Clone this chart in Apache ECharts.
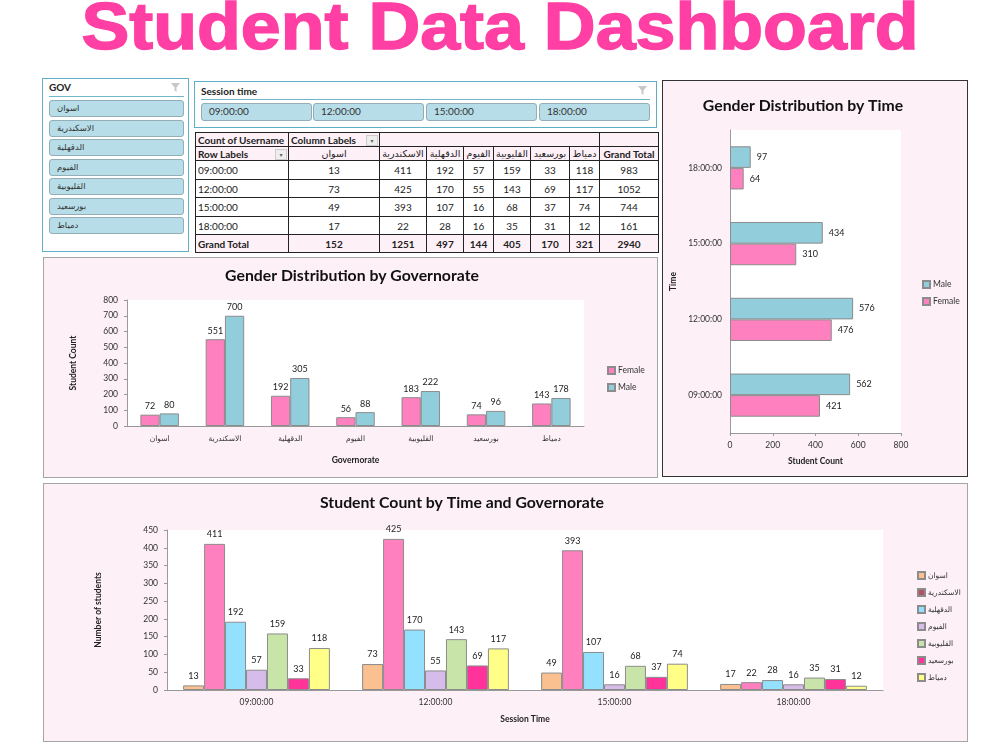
<!DOCTYPE html>
<html lang="en">
<head>
  <meta charset="UTF-8">
  <title>Student Data Dashboard</title>
  <script src="https://cdnjs.cloudflare.com/ajax/libs/echarts/6.0.0/echarts.min.js"></script>
  <style>
    html, body { margin: 0; padding: 0; background: #fff; }
    body { width: 1000px; height: 750px; position: relative; overflow: hidden; font-family: Lato, "DejaVu Sans", sans-serif; color: #222; }
    h1 { position: absolute; left: 0; top: -12px; width: 1000px; margin: 0; text-align: center; font: bold 66px "Liberation Sans", Arial, sans-serif; transform: scaleX(1.087); -webkit-text-stroke: 1.5px #ff3fa4; color: #ff3fa4; line-height: 76px; }
    .panel { position: absolute; background: #fdf0f7; box-sizing: border-box; }
    .slicer { position: absolute; box-sizing: border-box; border: 1px solid #5fb0c6; background: #fff; }
    .slicer .head { position: absolute; font-weight: bold; font-size: 10px; }
    .slicer .rule { position: absolute; height: 1px; background: #6fb8cc; }
    .slicer svg { position: absolute; }
    .btn { position: absolute; box-sizing: border-box; background: #b7dde8; border: 1px solid #93aeb6; border-radius: 3px; font-size: 10px; line-height: 15px; color: #333; }
    .gov { font-size: 8.5px; padding-left: 7px; }
    .time { padding-left: 7px; }
    table { position: absolute; left: 195px; top: 132px; width: 463px; height: 120px; border-collapse: collapse; table-layout: fixed; font-size: 10px; }
    td { border: 1px solid #222; text-align: center; padding: 0; overflow: hidden; white-space: nowrap; }
    td.row { text-align: left; padding-left: 2px; }
    .hd { background: #fdf0f7; }
    .b { font-weight: bold; }
    .ar { font-size: 9.5px; }
    .drop { float: right; width: 12px; height: 11px; margin: 1px 1px 0 0; background: #eee; border: 1px solid #ccc; box-sizing: border-box; font-size: 6px; line-height: 9px; text-align: center; color: #666; }
  </style>
</head>
<body>
  <h1>Student Data Dashboard</h1>

  <div class="slicer" id="gov-slicer" style="left:42px;top:78px;width:147px;height:174px;"></div>
  <div class="slicer" id="time-slicer" style="left:194px;top:81px;width:463px;height:47px;"></div>
  <table id="pivot"></table>

  <div class="panel" id="chart-gov" style="left:43px;top:257px;width:615px;height:221px;border:1px solid #a5a5a5;"></div>
  <div class="panel" id="chart-time" style="left:662px;top:80px;width:306px;height:397px;border:1px solid #333;"></div>
  <div class="panel" id="chart-both" style="left:43px;top:483px;width:925px;height:259px;border:1px solid #a5a5a5;"></div>

  <script>
    // values
    const governorates = ['اسوان', 'الاسكندرية', 'الدقهلية', 'الفيوم', 'القليوبية', 'بورسعيد', 'دمياط'];
    const times = ['09:00:00', '12:00:00', '15:00:00', '18:00:00'];

    const femaleByGov = [72, 551, 192, 56, 183, 74, 143];
    const maleByGov = [80, 700, 305, 88, 222, 96, 178];

    const femaleByTime = [421, 476, 310, 64];
    const maleByTime = [562, 576, 434, 97];

    const aswan = [13, 73, 49, 17];
    const alex = [411, 425, 393, 22];
    const dakahlia = [192, 170, 107, 28];
    const fayoum = [57, 55, 16, 16];
    const qalyubia = [159, 143, 68, 35];
    const portSaid = [33, 69, 37, 31];
    const damietta = [118, 117, 74, 12];
    const byTime = [aswan, alex, dakahlia, fayoum, qalyubia, portSaid, damietta];

    const timeTotals = [983, 1052, 744, 161];
    const govTotals = [152, 1251, 497, 144, 405, 170, 321];
    const grandTotal = 2940;

    const govColors = ['#fac090', '#ff80bf', '#93e0ff', '#d6bcea', '#c8e4a8', '#ff3399', '#ffff88'];
    const govLegendColors = ['#fac090', '#b65060', '#93e0ff', '#d6bcea', '#c8e4a8', '#ff3399', '#ffff88'];
    const PINK = '#ff80bf';
    const BLUE = '#92cddc';
    const FONT = 'Lato, "DejaVu Sans", sans-serif';
    const BAR_BORDER = '#8c8c8c';

    // slicers
    const funnel = (x, y) => `<svg style="left:${x}px;top:${y}px" width="11" height="11" viewBox="0 0 11 11"><path d="M1 1h9L6.5 5.5V10L4.5 8.5V5.5z" fill="#c8c8c8"/></svg>`;

    const govSlicer = document.getElementById('gov-slicer');
    let html = '<div class="head" style="left:6px;top:2px">GOV</div>' +
      '<div class="rule" style="left:6px;top:17px;width:135px"></div>' + funnel(127, 3);
    governorates.forEach((g, i) => {
      html += `<div class="btn gov" style="left:6px;top:${21 + i * 19.5}px;width:135px;height:17px">${g}</div>`;
    });
    govSlicer.innerHTML = html;

    const timeLefts = [6, 118, 231, 344];
    const timeSlicer = document.getElementById('time-slicer');
    html = '<div class="head" style="left:6px;top:3px">Session time</div>' +
      '<div class="rule" style="left:6px;top:17px;width:449px"></div>' + funnel(442, 3);
    times.forEach((t, i) => {
      html += `<div class="btn time" style="left:${timeLefts[i]}px;top:21px;width:111px;height:18px">${t}</div>`;
    });
    timeSlicer.innerHTML = html;

    // pivot table
    const colWidths = [93, 91, 47, 37, 30, 37, 39, 30, 59];
    const rowHeights = [14, 14, 19, 18, 19, 18, 18];
    let t = '<colgroup>' + colWidths.map(w => `<col style="width:${w}px">`).join('') + '</colgroup>';
    t += `<tr style="height:${rowHeights[0]}px"><td class="row b hd">Count of Username</td><td class="row b hd">Column Labels<span class="drop">▾</span></td><td class="hd" colspan="6"></td><td class="hd"></td></tr>`;
    t += `<tr style="height:${rowHeights[1]}px"><td class="row b hd">Row Labels<span class="drop">▾</span></td>` +
      governorates.map(g => `<td class="hd ar">${g}</td>`).join('') + '<td class="hd b">Grand Total</td></tr>';
    times.forEach((time, i) => {
      t += `<tr style="height:${rowHeights[i + 2]}px"><td class="row">${time}</td>` +
        byTime.map(v => `<td>${v[i]}</td>`).join('') + `<td>${timeTotals[i]}</td></tr>`;
    });
    t += `<tr class="hd b" style="height:${rowHeights[6]}px"><td class="row">Grand Total</td>` +
      govTotals.map(v => `<td>${v}</td>`).join('') + `<td>${grandTotal}</td></tr>`;
    document.getElementById('pivot').innerHTML = t;

    // shared bar style
    function barSeries(name, data, color, position, barCategoryGap, distance) {
      return {
        name: name,
        type: 'bar',
        data: data,
        barGap: 0,
        barCategoryGap: barCategoryGap,
        itemStyle: { color: color, borderColor: BAR_BORDER, borderWidth: 1 },
        label: { show: true, position: position, distance: distance, fontSize: 9, color: '#222', fontFamily: FONT }
      };
    }
    const axisLine = { show: true, lineStyle: { color: '#999', width: 1 } };
    const axisTick = { show: true, length: 3, lineStyle: { color: '#999' } };
    const nameStyle = { fontSize: 8.5, fontWeight: 'bold', color: '#222', fontFamily: FONT };
    const tickStyle = { fontSize: 8.5, color: '#333', fontFamily: FONT };
    const titleStyle = { fontSize: 15.8, fontWeight: 'bold', color: '#111', fontFamily: FONT };
    const legendText = { fontSize: 8.5, color: '#333', fontFamily: FONT, padding: [0, 0, 0, -2] };

    // Gender Distribution by Governorate
    const chartGov = echarts.init(document.getElementById('chart-gov'));
    chartGov.setOption({
      animation: false,
      title: { text: 'Gender Distribution by Governorate', left: 303, top: 5, textAlign: 'center', textStyle: titleStyle },
      legend: { orient: 'vertical', left: 558, top: 103, icon: 'rect', itemWidth: 7, itemHeight: 7, itemGap: 8,
        data: ['Female', 'Male'], textStyle: legendText },
      grid: { left: 83, top: 42, width: 457, height: 126, show: true, backgroundColor: '#fff', borderWidth: 0, outerBoundsMode: 'none' },
      xAxis: { type: 'category', data: governorates, name: 'Governorate', nameLocation: 'middle', nameGap: 30,
        nameTextStyle: nameStyle, axisLine: axisLine, axisTick: { show: false },
        axisLabel: { margin: 9, fontSize: 7.5, color: '#333', fontFamily: FONT } },
      yAxis: { type: 'value', min: 0, max: 800, interval: 100, name: 'Student Count', nameLocation: 'middle', nameGap: 49,
        nameTextStyle: nameStyle, axisLine: axisLine, axisTick: axisTick, axisLabel: Object.assign({ margin: 9 }, tickStyle),
        splitLine: { show: false } },
      series: [
        barSeries('Female', femaleByGov, PINK, 'top', '41%', 4),
        barSeries('Male', maleByGov, BLUE, 'top', '41%', 4)
      ]
    });

    // Gender Distribution by Time
    const chartTime = echarts.init(document.getElementById('chart-time'));
    chartTime.setOption({
      animation: false,
      title: { text: 'Gender Distribution by Time', left: 135, top: 12, textAlign: 'center', textStyle: titleStyle },
      legend: { orient: 'vertical', left: 254, top: 194, icon: 'rect', itemWidth: 7, itemHeight: 7, itemGap: 8,
        data: ['Male', 'Female'], textStyle: legendText },
      grid: { left: 67, top: 49, width: 171, height: 303, show: true, backgroundColor: '#fff', borderWidth: 0, outerBoundsMode: 'none' },
      xAxis: { type: 'value', min: 0, max: 800, interval: 200, name: 'Student Count', nameLocation: 'middle', nameGap: 24,
        nameTextStyle: nameStyle, axisLine: axisLine, axisTick: axisTick, axisLabel: Object.assign({ margin: 8 }, tickStyle),
        splitLine: { show: false } },
      yAxis: { type: 'category', data: times, name: 'Time', nameLocation: 'middle', nameGap: 47,
        nameTextStyle: nameStyle, axisLine: axisLine, axisTick: { show: false }, axisLabel: Object.assign({ margin: 8 }, tickStyle) },
      series: [
        barSeries('Male', maleByTime, BLUE, 'right', '43%', 6),
        barSeries('Female', femaleByTime, PINK, 'right', '43%', 6)
      ]
    });

    // Student Count by Time and Governorate
    const chartBoth = echarts.init(document.getElementById('chart-both'));
    chartBoth.setOption({
      animation: false,
      title: { text: 'Student Count by Time and Governorate', left: 413, top: 6, textAlign: 'center', textStyle: titleStyle },
      legend: { orient: 'vertical', left: 868, top: 82, icon: 'rect', itemWidth: 7, itemHeight: 7, itemGap: 8,
        data: governorates.map((g, i) => ({ name: g, itemStyle: { color: govLegendColors[i] } })),
        textStyle: Object.assign({}, legendText, { fontSize: 7.5 }) },
      grid: { left: 123, top: 46, width: 716, height: 160, show: true, backgroundColor: '#fff', borderWidth: 0, outerBoundsMode: 'none' },
      xAxis: { type: 'category', data: times, name: 'Session Time', nameLocation: 'middle', nameGap: 25,
        nameTextStyle: nameStyle, axisLine: axisLine, axisTick: { show: false }, axisLabel: Object.assign({ margin: 8 }, tickStyle) },
      yAxis: { type: 'value', min: 0, max: 450, interval: 50, name: 'Number of students', nameLocation: 'middle', nameGap: 64,
        nameTextStyle: nameStyle, axisLine: axisLine, axisTick: axisTick, axisLabel: Object.assign({ margin: 9 }, tickStyle),
        splitLine: { show: false } },
      series: governorates.map((g, i) => barSeries(g, byTime[i], govColors[i], 'top', '18%', 5))
    });
  </script>
</body>
</html>
